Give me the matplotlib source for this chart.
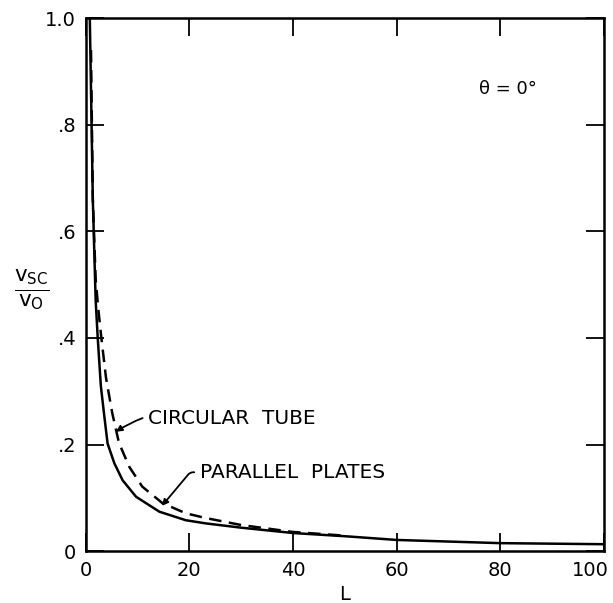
import numpy as np
import matplotlib.pyplot as plt
import matplotlib.transforms as mtransforms

# parallel plates (solid)
L_plates = [0.77, 1.35, 1.9, 2.3, 2.9, 3.5, 4.2, 5.5, 7.1, 9.7, 14.2, 19.3, 23.2,
            30.0, 40.0, 50.0, 60.0, 80.0, 100.0]
v_plates = [1.0, 0.66, 0.47, 0.40, 0.31, 0.259, 0.202, 0.165, 0.133, 0.102, 0.074, 0.058, 0.052,
            0.044, 0.034, 0.028, 0.021, 0.015, 0.013]

# circular tube (dashed)
L_tube = [1.0, 1.35, 1.9, 2.4, 3.0, 3.9, 5.1, 6.4, 8.4, 10.9, 14.8, 19.3, 23.2,
          30.0, 40.0, 50.0]
v_tube = [0.94, 0.66, 0.51, 0.455, 0.40, 0.325, 0.259, 0.203, 0.158, 0.121, 0.090, 0.071, 0.062,
          0.049, 0.036, 0.029]

xticks = [0, 20, 40, 60, 80, 100]
xtick_labels = ['0', '20', '40', '60', '80', '100']
yticks = [0, 0.2, 0.4, 0.6, 0.8, 1.0]
ytick_labels = ['0', '.2', '.4', '.6', '.8', '1.0']

plt.rcParams['font.family'] = ['DejaVu Sans']

fig = plt.figure(figsize=(6.13, 6.03), dpi=100)
ax = fig.add_axes([0.140, 0.086, 0.845, 0.884])

ax.plot(L_plates, v_plates, color='black', linewidth=1.8)
ax.plot(L_tube, v_tube, color='black', linewidth=1.8, linestyle=(0, (5, 3)))

ax.set_xlim(0, 100)
ax.set_ylim(0, 1.0)
ax.set_xticks(xticks)
ax.set_xticklabels(xtick_labels)
ax.set_yticks(yticks)
ax.set_yticklabels(ytick_labels)
ax.tick_params(direction='in', length=13, width=1.3, labelsize=14,
               top=True, right=True, pad=7)

# last x label sits inside the figure edge
last = ax.get_xticklabels()[-1]
last.set_horizontalalignment('right')
last.set_transform(last.get_transform() +
                   mtransforms.ScaledTranslation(0.05, 0, fig.dpi_scale_trans))

for sp in ax.spines.values():
    sp.set_linewidth(1.8)

ax.set_xlabel('L', fontsize=14, labelpad=4)
ax.text(-0.105, 0.49, r'$\frac{\mathregular{v_{SC}}}{\mathregular{v_O}}$',
        transform=ax.transAxes, fontsize=22, ha='center', va='center')

ax.text(81.5, 0.867, 'θ = 0°', fontsize=13, ha='center', va='center')

ax.annotate('CIRCULAR  TUBE', xy=(5.8, 0.224), xytext=(12.0, 0.248),
            fontsize=14.5, ha='left', va='center',
            arrowprops=dict(arrowstyle='-|>', color='black', lw=1.3,
                            mutation_scale=9, shrinkA=2, shrinkB=0,
                            connectionstyle='arc3,rad=0.25'))
ax.annotate('PARALLEL  PLATES', xy=(14.7, 0.085), xytext=(22.0, 0.148),
            fontsize=14.5, ha='left', va='center',
            arrowprops=dict(arrowstyle='-|>', color='black', lw=1.3,
                            mutation_scale=9, shrinkA=2, shrinkB=0,
                            connectionstyle='angle,angleA=0,angleB=50,rad=3'))

fig.savefig('out.png', dpi=100)
